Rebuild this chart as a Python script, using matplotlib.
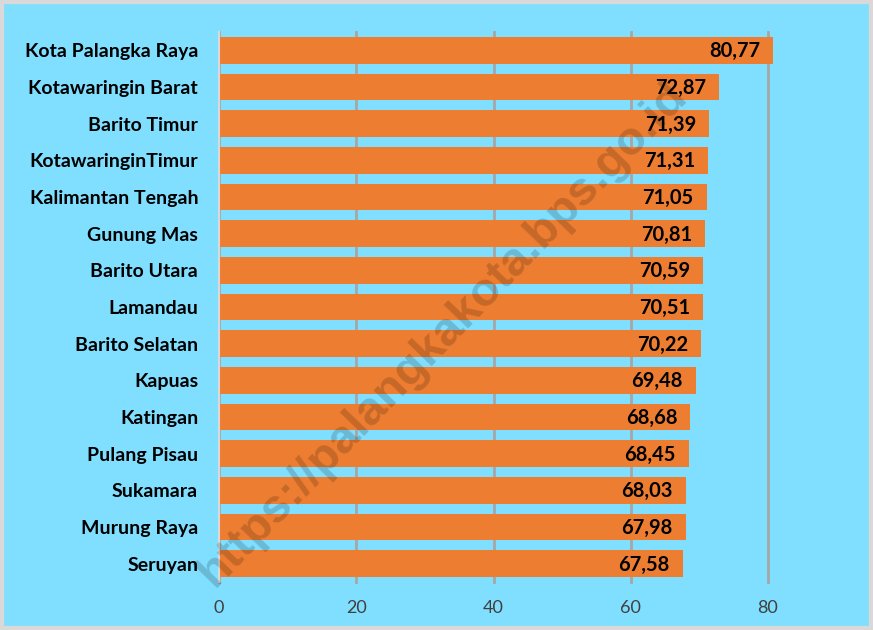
import matplotlib.pyplot as plt
from matplotlib.patches import Rectangle

# data
regions = ['Kota Palangka Raya', 'Kotawaringin Barat', 'Barito Timur', 'KotawaringinTimur',
           'Kalimantan Tengah', 'Gunung Mas', 'Barito Utara', 'Lamandau', 'Barito Selatan',
           'Kapuas', 'Katingan', 'Pulang Pisau', 'Sukamara', 'Murung Raya', 'Seruyan']
values = [80.77, 72.87, 71.39, 71.31, 71.05, 70.81, 70.59, 70.51, 70.22,
          69.48, 68.68, 68.45, 68.03, 67.98, 67.58]
x_ticks = [0, 20, 40, 60, 80]

bg = '#80DEFF'
bar_color = '#ED7D31'

plt.rcParams['font.family'] = ['Lato', 'DejaVu Sans']

fig = plt.figure(figsize=(8.73, 6.3), dpi=100)
fig.patch.set_facecolor(bg)
fig.patches.append(Rectangle((0, 0), 1, 1, transform=fig.transFigure, fill=False,
                             edgecolor='#D9D9D9', linewidth=6, zorder=10))

ax = fig.add_axes([219 / 873, 1 - 582 / 630, 549 / 873, 550 / 630])
ax.set_facecolor(bg)

y = list(range(len(regions)))
ax.barh(y, values, height=0.72, color=bar_color, zorder=2, clip_on=False)
for yi, v in zip(y, values):
    ax.text(v - 1.9, yi + 0.03, f'{v:.2f}'.replace('.', ','), ha='right', va='center',
            fontsize=14.5, fontweight='bold', color='black', zorder=3)

ax.set_xlim(0, 80)
ax.set_ylim(len(regions) - 0.5, -0.5)
ax.set_yticks(y)
ax.set_yticklabels(regions, fontsize=14, fontweight='bold', color='black')
ax.set_xticks(x_ticks)
ax.set_xticklabels([str(t) for t in x_ticks], fontsize=13, color='#404040')
ax.tick_params(axis='both', length=0)
ax.tick_params(axis='y', pad=15)
ax.tick_params(axis='x', pad=13)
ax.grid(axis='x', color='#A6A6A6', linewidth=2, zorder=1)
for gl in ax.get_xgridlines():
    gl.set_clip_on(False)
for s in ['top', 'right', 'bottom']:
    ax.spines[s].set_visible(False)
ax.spines['left'].set_color('#D9D9D9')
ax.spines['left'].set_linewidth(1.5)
ax.spines['left'].set_zorder(3)

# watermark
fig.text(0.507, 0.47, 'https://palangkakota.bps.go.id', rotation=46, ha='center', va='center',
         fontsize=34, fontweight='bold', color='black', alpha=0.17,
         family=['Liberation Sans', 'DejaVu Sans'], zorder=5)

fig.savefig('out.png', dpi=100, facecolor=bg)
